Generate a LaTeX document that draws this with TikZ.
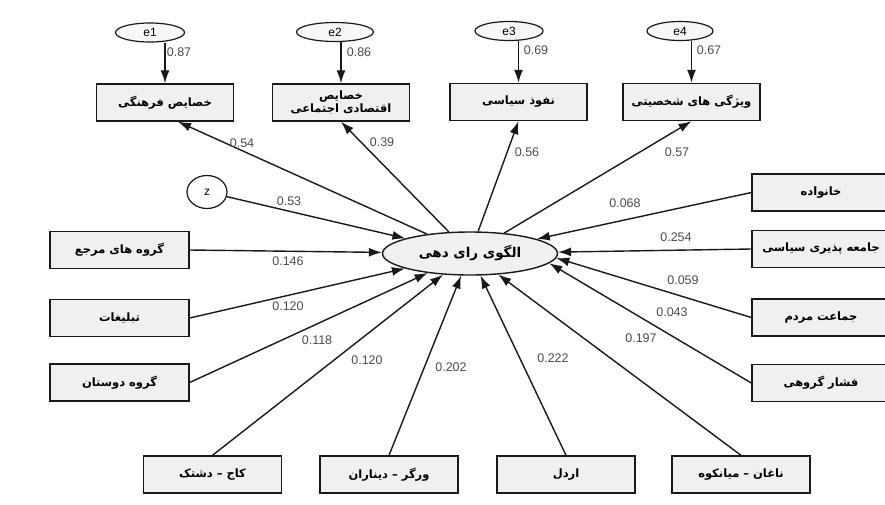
\documentclass[tikz,border=0pt]{standalone}
\usepackage{fontspec}
\setmainfont{Liberation Sans}
\newfontfamily\fa[Script=Arabic]{DejaVu Sans}
\TeXXeTstate=1
\usetikzlibrary{arrows.meta,shapes.geometric,calc}
\newcommand{\fat}[1]{{\fa\beginR #1\endR}}
\begin{document}
\begin{tikzpicture}[x=1pt,y=-1pt,
  box/.style={draw=black!90, line width=1.4pt, fill=gray!12, minimum width=137pt, minimum height=37pt, inner sep=1pt, font=\fa\bfseries\fontsize{11.5}{13.5}\selectfont, align=center},
  err/.style={ellipse, draw=black!90, line width=1.2pt, fill=gray!6, minimum height=19pt, inner sep=0pt, font=\fontsize{12}{14}\selectfont},
  arr/.style={-{Latex[length=13pt,width=9pt]}, line width=1.4pt, draw=black!90},
  lab/.style={font=\fontsize{12.5}{14}\selectfont, text=black!70, inner sep=0pt}]
\useasboundingbox (0,0) rectangle (885,504);
% top boxes
\node[box] (t1) at (165,102.5) {\fat{خصایص فرهنگی}};
\node[box] (t2) at (341,102.5) {\fat{خصایص}\\\fat{اقتصادی اجتماعی}};
\node[box] (t3) at (518.5,102) {\fat{نفوذ سیاسی}};
\node[box] (t4) at (691.5,102) {\fat{ویژگی های شخصیتی}};
% error terms
\node[err, minimum width=69pt] (e1) at (150,32.5) {e1};
\node[err, minimum width=77pt] (e2) at (335,32) {e2};
\node[err, minimum width=68pt] (e3) at (509,31) {e3};
\node[err, minimum width=66pt] (e4) at (680,31) {e4};
% centre
\node[ellipse, draw=black!90, line width=1.4pt, fill=gray!12, minimum width=175pt, minimum height=43pt, inner sep=0pt, font=\fa\bfseries\fontsize{13.5}{15}\selectfont] (c) at (470,253.5) {\fat{الگوی رای دهی}};
\node[ellipse, draw=black!90, line width=1.2pt, fill=white, minimum width=40pt, minimum height=33pt, inner sep=0pt, font=\fontsize{12}{14}\selectfont] (z) at (207,192) {z};
% left boxes
\node[box, minimum width=139pt] (l1) at (119.5,250) {\fat{گروه های مرجع}};
\node[box, minimum width=139pt] (l2) at (119.5,318) {\fat{تبلیغات}};
\node[box, minimum width=139pt] (l3) at (119.5,382.5) {\fat{گروه دوستان}};
% right boxes
\node[box, minimum width=138pt] (r1) at (821,192.5) {\fat{خانواده}};
\node[box, minimum width=138pt] (r2) at (821,249) {\fat{جامعه پذیری سیاسی}};
\node[box, minimum width=138pt] (r3) at (821,317.5) {\fat{جماعت مردم}};
\node[box, minimum width=138pt] (r4) at (821,383) {\fat{فشار گروهی}};
% bottom boxes
\node[box, minimum width=138pt] (b1) at (212.5,474.5) {\fat{کاج – دشتک}};
\node[box, minimum width=138pt] (b2) at (389,474.5) {\fat{ورگر – دیناران}};
\node[box, minimum width=138pt] (b3) at (566,474.5) {\fat{اردل}};
\node[box, minimum width=138pt] (b4) at (741,474.5) {\fat{ناغان – میانکوه}};
% error arrows
\draw[arr] (e1.south -| t1.north) -- (t1.north);
\draw[arr] (e2.south -| t2.north) -- (t2.north);
\draw[arr] (e3.south -| t3.north) -- (t3.north);
\draw[arr] (e4.south -| t4.north) -- (t4.north);
% outgoing
\draw[arr] (c) -- ($(t1.south)+(13,0)$);
\draw[arr] (c) -- (t2.south);
\draw[arr] (c) -- (t3.south);
\draw[arr] (c) -- (t4.south);
% incoming
\draw[arr] (z) -- (c);
\draw[arr] (l1.east) -- (c);
\draw[arr] (l2.east) -- (c);
\draw[arr] (l3.east) -- (c);
\draw[arr] (r1.west) -- (c);
\draw[arr] (r2.west) -- (c);
\draw[arr] (r3.west) -- (c.-3);
\draw[arr] (r4.west) -- (c.-7);
\draw[arr] (b1.north) -- (c);
\draw[arr] (b2.north) -- (c);
\draw[arr] (b3.north) -- (c);
\draw[arr] (b4.north) -- (c);
% labels
\node[lab] (n1) at (179,52) {0.87};
\node[lab] (n2) at (359,52) {0.86};
\node[lab] (n3) at (536,50) {0.69};
\node[lab] (n4) at (709,50) {0.67};
\node[lab] (n5) at (242,143) {0.54};
\node[lab] (n6) at (382,142) {0.39};
\node[lab] (n7) at (527,152) {0.56};
\node[lab] (n8) at (677,152) {0.57};
\node[lab] (n9) at (289,201) {0.53};
\node[lab] (n10) at (625,203) {0.068};
\node[lab] (n11) at (676,237) {0.254};
\node[lab] (n12) at (683,280) {0.059};
\node[lab] (n13) at (672,312) {0.043};
\node[lab] (n14) at (641,338) {0.197};
\node[lab] (n15) at (553,358) {0.222};
\node[lab] (n16) at (451,367) {0.202};
\node[lab] (n17) at (367,360) {0.120};
\node[lab] (n18) at (317,340) {0.118};
\node[lab] (n19) at (288,306) {0.120};
\node[lab] (n20) at (288,261) {0.146};
\end{tikzpicture}
\end{document}
